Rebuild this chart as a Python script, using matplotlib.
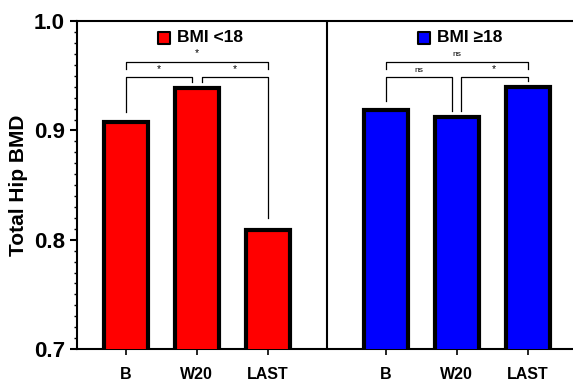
import matplotlib.pyplot as plt
from matplotlib.ticker import MultipleLocator

plt.rcParams['font.family'] = ['Liberation Sans', 'DejaVu Sans']

# data
groups = ['B', 'W20', 'LAST']
low_bmi = [0.908, 0.939, 0.809]
high_bmi = [0.919, 0.912, 0.940]
x_low = [0, 1, 2]
x_high = [3.66, 4.66, 5.66]
divider = 2.84

fig = plt.figure(figsize=(5.73, 3.84), dpi=100)
ax = fig.add_axes([0.134, 0.091, 0.866, 0.854])

ax.bar(x_low, low_bmi, width=0.62, color='#ff0000', edgecolor='black', linewidth=3, zorder=3)
ax.bar(x_high, high_bmi, width=0.62, color='#0000ff', edgecolor='black', linewidth=3, zorder=3)
ax.axvline(divider, color='black', lw=1.5)

ax.set_ylim(0.7, 1.0)
ax.set_xlim(-0.69, 6.3)
ax.set_xticks(x_low + x_high)
ax.set_xticklabels(groups + groups, fontsize=11.5, fontweight='bold')
ax.set_yticks([0.7, 0.8, 0.9, 1.0])
ax.set_yticklabels(['0.7', '0.8', '0.9', '1.0'], fontsize=16, fontweight='bold')
ax.yaxis.set_minor_locator(MultipleLocator(0.01))
ax.tick_params(axis='y', which='major', length=5, width=1.5)
ax.tick_params(axis='y', which='minor', length=2.5, width=1)
ax.tick_params(axis='x', length=4, width=1.2, pad=9)
ax.set_ylabel('Total Hip BMD', fontsize=15, fontweight='bold', labelpad=4)
for s in ['left', 'bottom', 'top']:
    ax.spines[s].set_linewidth(1.5)
ax.spines['right'].set_visible(False)


def bracket(x1, x2, y, y1, y2, label, fs=7.5):
    ax.plot([x1, x1, x2, x2], [y1, y, y, y2], color='black', lw=0.9)
    ax.text((x1 + x2) / 2, y + 0.003, label, ha='center', va='bottom', fontsize=fs)


# red group brackets
bracket(0, 0.93, 0.949, 0.917, 0.944, '*')
bracket(1.07, 2, 0.949, 0.944, 0.820, '*')
bracket(0, 2, 0.963, 0.956, 0.956, '*')
# blue group brackets
bracket(3.66, 4.6, 0.949, 0.927, 0.918, 'ns', fs=6)
bracket(4.72, 5.66, 0.949, 0.918, 0.945, '*')
bracket(3.66, 5.66, 0.963, 0.956, 0.956, 'ns', fs=6)

# group labels
for xc, col, txt in [(1, '#ff0000', 'BMI <18'), (4.66, '#0000ff', 'BMI \u226518')]:
    ax.scatter([xc - 0.46], [0.985], marker='s', s=80, color=col, edgecolors='black', linewidths=1.5, zorder=4)
    ax.text(xc - 0.28, 0.985, txt, fontsize=12.5, fontweight='bold', va='center', ha='left')

fig.savefig('out.png', dpi=100)
